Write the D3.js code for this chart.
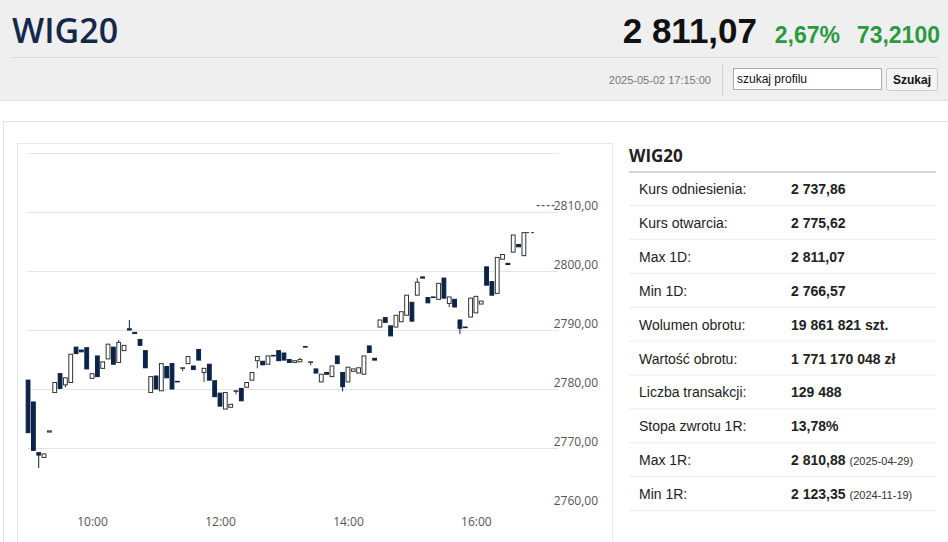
<!DOCTYPE html>
<meta charset="utf-8">
<style>
body { margin: 0; background: #fff; overflow: hidden; }
svg { display: block; font-family: Arial, "Liberation Sans", sans-serif; }
.grid line { stroke: #e4e4e4; }
.grid path, .yaxis path, .xaxis path { display: none; }
.yaxis text, .xaxis text { fill: #555; font-size: 12px; font-family: "Open Sans", Arial, sans-serif; }
</style>
<body>
<svg id="page" width="948" height="542"></svg>

<script src="https://d3js.org/d3.v7.min.js"></script>
<script>

// 5-minute candles of the session
var times = ["09:00","09:05","09:10","09:15","09:20","09:25","09:30","09:35","09:40","09:45","09:50","09:55",
  "10:00","10:05","10:10","10:15","10:20","10:25","10:30","10:35","10:40","10:45","10:50","10:55",
  "11:00","11:05","11:10","11:15","11:20","11:25","11:30","11:35","11:40","11:45","11:50","11:55",
  "12:00","12:05","12:10","12:15","12:20","12:25","12:30","12:35","12:40","12:45","12:50","12:55",
  "13:00","13:05","13:10","13:15","13:20","13:25","13:30","13:35","13:40","13:45","13:50","13:55",
  "14:00","14:05","14:10","14:15","14:20","14:25","14:30","14:35","14:40","14:45","14:50","14:55",
  "15:00","15:05","15:10","15:15","15:20","15:25","15:30","15:35","15:40","15:45","15:50","15:55",
  "16:00","16:05","16:10","16:15","16:20","16:25","16:30","16:35","16:40","16:45"];
var opens = [2781.5,2777.8,2769.2,2768.4,2772.7,2779.4,2782.6,2780.7,2781.1,2787.1,2786.6,2787.0,
  2781.8,2785.6,2783.5,2785.1,2787.1,2784.5,2786.5,2790.2,2789.6,2788.4,2786.5,2779.4,
  2782.2,2779.7,2783.8,2784.3,2781.3,2783.5,2784.3,2783.9,2786.7,2782.8,2784.2,2781.4,
  2779.3,2776.6,2776.9,2779.6,2780.1,2780.3,2781.5,2784.8,2784.7,2784.2,2785.7,2786.5,
  2786.1,2785.0,2784.5,2784.6,2787.2,2784.5,2783.4,2781.2,2782.8,2782.1,2785.6,2782.8,
  2781.2,2783.0,2782.7,2782.5,2787.3,2785.2,2790.5,2792.1,2790.7,2790.5,2791.4,2792.5,
  2794.7,2795.9,2799.0,2795.5,2795.6,2795.2,2798.8,2794.5,2795.2,2791.7,2790.5,2792.2,
  2792.9,2794.4,2800.7,2798.2,2796.2,2802.0,2801.3,2803.2,2804.5,2802.6];
var highs = [2781.5,2777.8,2769.3,2769.0,2772.9,2781.1,2782.6,2781.9,2785.9,2787.1,2786.6,2787.0,
  2782.6,2785.6,2784.6,2787.6,2787.1,2788.3,2787.4,2791.7,2789.6,2788.4,2786.5,2782.1,
  2782.2,2784.3,2783.8,2784.3,2781.3,2783.6,2785.5,2783.9,2786.7,2783.5,2784.2,2781.4,
  2779.3,2779.4,2777.4,2779.7,2780.1,2781.1,2782.8,2785.5,2784.7,2785.6,2785.7,2786.5,
  2786.1,2785.0,2784.8,2785.3,2787.2,2784.6,2783.4,2782.5,2782.8,2783.9,2785.6,2782.8,
  2783.7,2783.4,2783.6,2785.6,2787.3,2785.2,2791.7,2792.1,2790.7,2792.5,2793.1,2795.9,
  2794.7,2798.8,2799.0,2795.5,2795.6,2797.9,2798.8,2795.6,2795.2,2791.7,2790.5,2795.4,
  2795.7,2794.9,2800.7,2798.2,2802.3,2802.8,2801.3,2806.1,2804.5,2806.5];
var lows = [2772.6,2769.6,2766.6,2768.4,2772.7,2779.4,2780.1,2780.3,2781.1,2786.0,2786.3,2783.4,
  2781.8,2782.1,2783.5,2785.1,2784.2,2784.5,2786.5,2790.0,2789.4,2787.4,2783.6,2779.4,
  2780.0,2779.7,2781.9,2780.0,2781.2,2783.0,2784.3,2783.3,2784.9,2781.2,2781.5,2778.7,
  2777.1,2776.6,2776.9,2779.1,2778.0,2780.3,2781.5,2783.5,2784.1,2784.2,2785.6,2784.8,
  2784.9,2784.5,2784.5,2784.6,2787.1,2784.0,2782.7,2781.2,2782.5,2782.1,2784.3,2779.6,
  2781.2,2783.0,2782.7,2782.5,2786.2,2784.9,2790.5,2791.3,2789.0,2790.5,2791.4,2792.5,
  2791.5,2795.9,2798.8,2794.6,2795.5,2795.2,2795.4,2793.9,2793.9,2789.3,2790.4,2792.2,
  2792.9,2794.4,2797.6,2795.9,2796.2,2802.0,2801.1,2803.2,2804.1,2802.6];
var closes = [2772.6,2769.6,2768.8,2769.0,2772.9,2781.1,2780.1,2781.9,2785.9,2786.0,2786.3,2783.4,
  2782.6,2782.1,2784.6,2787.6,2784.2,2787.9,2787.4,2790.0,2789.4,2787.4,2783.6,2782.1,
  2780.0,2784.3,2781.9,2780.0,2781.2,2783.6,2785.5,2783.3,2784.9,2783.5,2781.5,2778.7,
  2777.1,2779.4,2777.4,2779.7,2778.0,2781.1,2782.8,2785.5,2784.1,2785.6,2785.6,2784.8,
  2784.9,2784.5,2784.8,2785.0,2787.1,2784.6,2782.7,2782.5,2782.5,2783.9,2784.3,2780.4,
  2783.7,2783.4,2783.6,2785.6,2786.2,2784.9,2791.7,2791.3,2789.0,2792.5,2793.1,2795.9,
  2791.5,2798.1,2798.8,2794.6,2795.5,2797.9,2795.4,2795.6,2793.9,2790.3,2790.4,2795.4,
  2795.7,2794.9,2797.6,2795.9,2802.3,2802.8,2801.1,2806.1,2804.1,2806.5];

// dashed level marks after the last candle
var levelFrom = ["16:47","16:57"];
var levelTo = ["16:55","17:14"];
var levelValue = [2806.5, 2811.07];

var yTicks = [2760, 2770, 2780, 2790, 2800, 2810];
var yGrid = [2770, 2780, 2790, 2800, 2810, 2820];
var xTicks = ["10:00", "12:00", "14:00", "16:00"];

var statLabels = ["Kurs odniesienia:", "Kurs otwarcia:", "Max 1D:", "Min 1D:", "Wolumen obrotu:",
  "Wartość obrotu:", "Liczba transakcji:", "Stopa zwrotu 1R:", "Max 1R:", "Min 1R:"];
var statValues = ["2 737,86", "2 775,62", "2 811,07", "2 766,57", "19 861 821 szt.",
  "1 771 170 048 zł", "129 488", "13,78%", "2 810,88", "2 123,35"];
var statNotes = ["", "", "", "", "", "", "", "", "(2025-04-29)", "(2024-11-19)"];

var svg = d3.select("#page");
var parseT = d3.timeParse("%H:%M");
var pl = d3.formatLocale({decimal: ",", thousands: " ", grouping: [3], currency: ["", " zł"]});

// ---- header
svg.append("rect").attr("width", 948).attr("height", 101).attr("fill", "#efefef");
svg.append("line").attr("x1", 0).attr("x2", 948).attr("y1", 100.5).attr("y2", 100.5).attr("stroke", "#e2e2e2");
svg.append("text").attr("x", 12).attr("y", 43)
    .style("font", "600 34px 'Open Sans'").attr("fill", "#14284b").text("WIG20");
svg.append("text").attr("x", 757).attr("y", 43).attr("text-anchor", "end")
    .style("font", "bold 35px Arial").attr("fill", "#111").text("2 811,07");
svg.append("text").attr("x", 840).attr("y", 43).attr("text-anchor", "end")
    .style("font", "bold 23px Arial").attr("fill", "#2b9a3e").text("2,67%");
svg.append("text").attr("x", 940).attr("y", 43).attr("text-anchor", "end")
    .style("font", "bold 23px Arial").attr("fill", "#2b9a3e").text("73,2100");
svg.append("line").attr("x1", 12).attr("x2", 938).attr("y1", 57.5).attr("y2", 57.5).attr("stroke", "#d9d9d9");
svg.append("text").attr("x", 711).attr("y", 84).attr("text-anchor", "end")
    .style("font", "11px Arial").attr("fill", "#777").text("2025-05-02 17:15:00");
svg.append("line").attr("x1", 722.5).attr("x2", 722.5).attr("y1", 64).attr("y2", 96).attr("stroke", "#d2d2d2");
svg.append("rect").attr("x", 733.5).attr("y", 68.5).attr("width", 148).attr("height", 21)
    .attr("fill", "#fff").attr("stroke", "#aaa");
svg.append("text").attr("x", 737).attr("y", 83).style("font", "12px Arial").attr("fill", "#111").text("szukaj profilu");
svg.append("rect").attr("x", 886.5).attr("y", 68.5).attr("width", 51).attr("height", 22).attr("rx", 2)
    .attr("fill", "#f4f4f4").attr("stroke", "#c9c9c9");
svg.append("text").attr("x", 912).attr("y", 84).attr("text-anchor", "middle")
    .style("font", "bold 12px Arial").attr("fill", "#111").text("Szukaj");

// ---- panel
svg.append("rect").attr("x", 3.5).attr("y", 121.5).attr("width", 960).attr("height", 440)
    .attr("fill", "#fff").attr("stroke", "#e2e2e2");
svg.append("rect").attr("x", 17.5).attr("y", 143.5).attr("width", 595).attr("height", 420)
    .attr("fill", "none").attr("stroke", "#e9e9e9");

// ---- chart
var g = svg.append("g").attr("transform", "translate(17,143)");

var x = d3.scaleTime()
    .domain([parseT("08:59"), parseT("17:17")])
    .range([10, 541]);
var y = d3.scaleLinear()
    .domain([2760, 2820])
    .range([364, 10]);

g.append("g")
    .attr("class", "grid")
    .attr("transform", "translate(10,0)")
    .call(d3.axisRight(y).tickValues(yGrid).tickSize(531).tickFormat(""));

g.append("g")
    .attr("class", "yaxis")
    .attr("transform", "translate(581,0)")
    .call(d3.axisLeft(y).tickValues(yTicks).tickSize(0).tickPadding(0).tickFormat(pl.format(".2f")))
    .selectAll("text").attr("dy", "-0.2em");

g.append("g")
    .attr("class", "xaxis")
    .attr("transform", "translate(0,370)")
    .call(d3.axisBottom(x).tickValues(xTicks.map(parseT)).tickSize(0).tickPadding(4)
        .tickFormat(d3.timeFormat("%H:%M")));

var candles = times.map(function (t, i) {
    return {t: parseT(t), o: opens[i], h: highs[i], l: lows[i], c: closes[i]};
});

var dark = "#0d2248";
var c = g.selectAll(".candle")
    .data(candles)
    .enter().append("g")
    .attr("class", "candle");

c.append("line")
    .attr("x1", function (d) { return x(d.t); })
    .attr("x2", function (d) { return x(d.t); })
    .attr("y1", function (d) { return y(d.h); })
    .attr("y2", function (d) { return y(d.l); })
    .attr("stroke", function (d) { return d.c >= d.o ? "#333" : dark; });

c.append("rect")
    .attr("x", function (d) { return x(d.t) - 1.9; })
    .attr("width", 3.8)
    .attr("y", function (d) { return y(Math.max(d.o, d.c)); })
    .attr("height", function (d) { return Math.max(0.6, Math.abs(y(d.o) - y(d.c))); })
    .attr("fill", function (d) { return d.c >= d.o ? "#fff" : dark; })
    .attr("stroke", function (d) { return d.c >= d.o ? "#333" : dark; });

g.selectAll(".level")
    .data(levelValue)
    .enter().append("line")
    .attr("class", "level")
    .attr("x1", function (d, i) { return x(parseT(levelFrom[i])); })
    .attr("x2", function (d, i) { return x(parseT(levelTo[i])); })
    .attr("y1", function (d) { return y(d); })
    .attr("y2", function (d) { return y(d); })
    .attr("stroke", "#333")
    .attr("stroke-dasharray", "3,2");

// ---- stats table
svg.append("text").attr("x", 629).attr("y", 162)
    .style("font", "bold 17px 'Open Sans'").attr("fill", "#222").text("WIG20");
svg.append("rect").attr("x", 629).attr("y", 171).attr("width", 307).attr("height", 2).attr("fill", "#d6d6d6");

var rowY = function (i) { return 172 + i * 33.9; };
var rows = svg.selectAll(".row")
    .data(statLabels)
    .enter().append("g")
    .attr("class", "row")
    .attr("transform", function (d, i) { return "translate(0," + rowY(i) + ")"; });

rows.append("line")
    .attr("x1", 629).attr("x2", 936)
    .attr("y1", 33.5).attr("y2", 33.5)
    .attr("stroke", "#ececec");
rows.append("text")
    .attr("x", 639).attr("y", 22)
    .style("font", "14px Arial").attr("fill", "#222")
    .text(function (d) { return d; });
var vt = rows.append("text")
    .attr("x", 791).attr("y", 22)
    .style("font", "bold 14px Arial").attr("fill", "#222");
vt.append("tspan").text(function (d, i) { return statValues[i]; });
vt.append("tspan")
    .attr("dx", 4)
    .style("font", "11px Arial").attr("fill", "#333")
    .text(function (d, i) { return statNotes[i]; });

</script>
</body>
